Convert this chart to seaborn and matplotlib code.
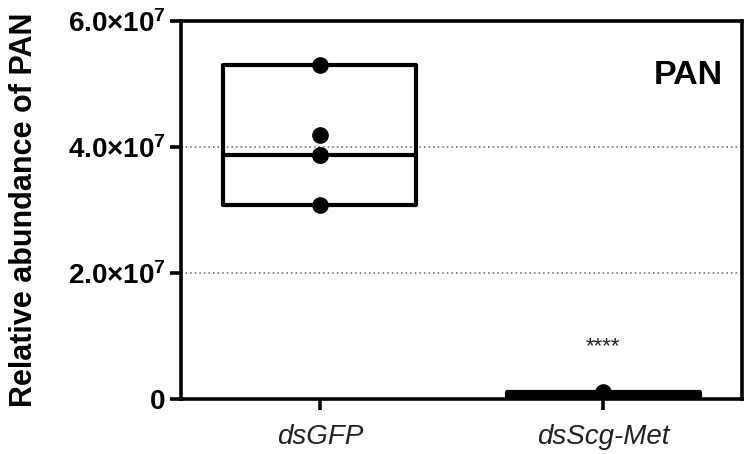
import numpy as np
import pandas as pd
import matplotlib
matplotlib.use("Agg")
import matplotlib.pyplot as plt
import seaborn as sns
from matplotlib.ticker import FuncFormatter

# ---- data ----
groups = ["dsGFP", "dsScg-Met"]
dsGFP_values = [5.30e7, 4.19e7, 3.87e7, 3.87e7, 3.08e7]
dsScg_values = [1.1e6, 0.8e6, 0.6e6, 0.4e6, 0.3e6]
y_ticks = [0, 2.0e7, 4.0e7, 6.0e7]
significance = ["", "****"]
title_text = "PAN"
y_label = "Relative abundance of PAN"

sns.set_theme(style="white")
plt.rcParams['font.family'] = ['Liberation Sans', 'DejaVu Sans']
plt.rcParams['mathtext.fontset'] = 'custom'
plt.rcParams['mathtext.rm'] = 'Liberation Sans'
plt.rcParams['mathtext.bf'] = 'Liberation Sans:bold'
plt.rcParams['mathtext.it'] = 'Liberation Sans:italic'

df = pd.DataFrame({
    "group": [groups[0]] * len(dsGFP_values) + [groups[1]] * len(dsScg_values),
    "value": dsGFP_values + dsScg_values,
})

fig = plt.figure(figsize=(7.55, 4.54), dpi=100)
ax = fig.add_axes([0.2397, 0.1211, 0.7431, 0.8326])

# floating bars min..max with a median line
lw = 3.0
box_w = 0.68
for i, g in enumerate(groups):
    vals = np.array(df.loc[df.group == g, "value"])
    lo, hi, med = vals.min(), vals.max(), np.median(vals)
    ax.bar(i, hi - lo, bottom=lo, width=box_w, fill=False,
           edgecolor="black", linewidth=lw, joinstyle="round", zorder=3)
    ax.hlines(med, i - box_w / 2, i + box_w / 2, color="black",
              linewidth=lw, zorder=3)

sns.stripplot(data=df, x="group", y="value", order=groups, jitter=False,
              color="black", size=12, linewidth=0, ax=ax, zorder=4)

# grid lines
for yv in y_ticks[1:-1]:
    ax.axhline(yv, color="#666666", linestyle=(0, (1, 2)), linewidth=1.1, zorder=1)

ax.set_xlim(-0.49, 1.49)
ax.set_ylim(0, 6.0e7)
ax.set_yticks(y_ticks)

def fmt(v, pos):
    if v == 0:
        return r"$\mathbf{0}$"
    m = v / 1e7
    return r"$\mathbf{%.1f{\times}10^{7}}$" % m

ax.yaxis.set_major_formatter(FuncFormatter(fmt))
ax.set_xlabel("")
ax.set_ylabel(y_label, fontsize=22, fontweight="bold", labelpad=21, color="black")
ax.tick_params(axis="y", labelsize=20, length=8, width=2.6, direction="out",
               left=True, pad=3, labelcolor="black", color="black")
ax.tick_params(axis="x", labelsize=20, length=8, width=2.6, direction="out",
               bottom=True, pad=10, color="black")
for lab in ax.get_xticklabels():
    lab.set_fontstyle("italic")
    lab.set_color("#222222")

for s in ax.spines.values():
    s.set_linewidth(2.6)
    s.set_color("black")
    s.set_visible(True)

for i, t in enumerate(significance):
    if t:
        ax.text(i, 0.66e7, t, ha="center", va="bottom", fontsize=16, color="#222222")

ax.text(0.966, 0.857, title_text, transform=ax.transAxes, ha="right",
        va="center", fontsize=24.5, fontweight="bold", color="black")

fig.savefig("out.png", dpi=100)
